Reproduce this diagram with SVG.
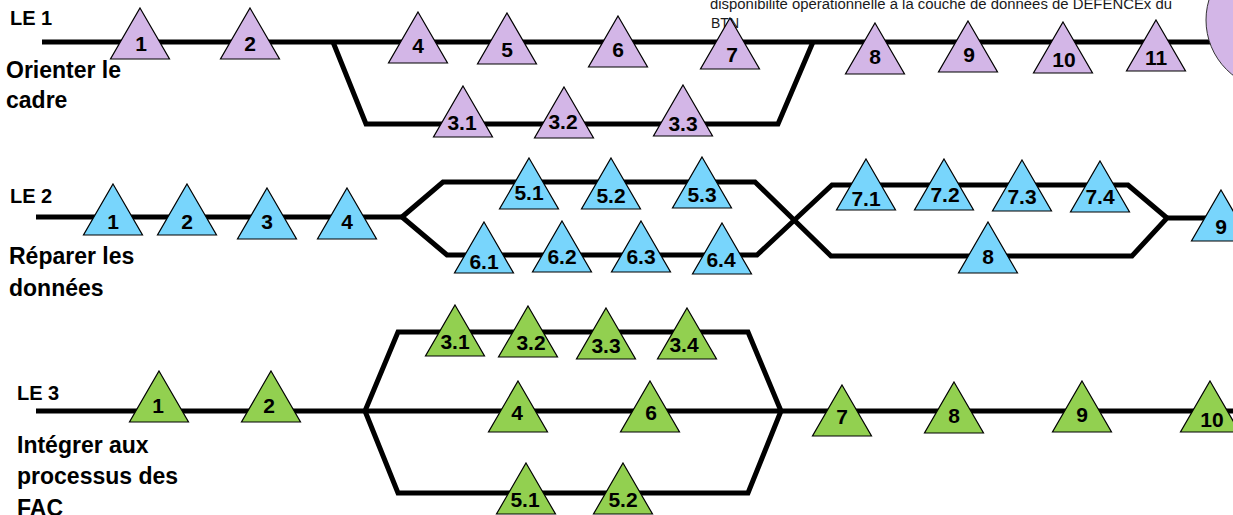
<svg xmlns="http://www.w3.org/2000/svg" xmlns:xlink="http://www.w3.org/1999/xlink" width="1233" height="515" viewBox="0 0 1233 515">
<style>
.ln{fill:none;stroke:#000;stroke-width:5;stroke-linejoin:miter}
.p{fill:#D3B6E7}
.b{fill:#78D5FC}
.g{fill:#92D050}
.tri{stroke:#000;stroke-width:1.2}
.lbl{font-family:"Liberation Sans",Arial,sans-serif;font-weight:bold;font-size:21px;text-anchor:middle;fill:#000}
.le{font-family:"Liberation Sans",Arial,sans-serif;font-weight:bold;font-size:20px;fill:#000}
.ds{font-family:"Liberation Sans",Arial,sans-serif;font-weight:bold;font-size:23px;fill:#000}
.note{font-family:"Liberation Sans",Arial,sans-serif;font-size:14px;fill:#1a1a1a}
</style>
<defs>
<path id="tri" class="tri" d="M0,0 L29.5,51 L-29.5,51 Z"/>
</defs>
<rect width="1233" height="515" fill="#fff"/>
<g id="note">
<text class="note" x="710" y="9" textLength="462" lengthAdjust="spacingAndGlyphs">disponibilité opérationnelle à la couche de données de DEFENCEx du</text>
<text class="note" x="711" y="28">BTN</text>
</g>
<g id="connectors">
<path class="ln" d="M42,42 H1215"/>
<path class="ln" d="M333,42 L366,124 H778 L813,42"/>
<path class="ln" d="M36,217 H402"/>
<path class="ln" d="M402,217 L443,182 H755 L831,256 H1132 L1167,218 H1233"/>
<path class="ln" d="M402,217 L447,255 H757 L832,185 H1128 L1167,218"/>
<path class="ln" d="M36,411 H1233"/>
<path class="ln" d="M365,411 L398,332 H748 L781,411"/>
<path class="ln" d="M365,411 L398,493 H748 L781,411"/>
</g>
<g id="goal1"><ellipse cx="1276" cy="20" rx="70" ry="70" fill="#D3B6E7" stroke="#333" stroke-width="1"/></g>
<g id="lane1-label"><text class="le" x="10" y="25">LE 1</text><text class="ds" x="6" y="78">Orienter le</text><text class="ds" x="6" y="108">cadre</text></g>
<g id="lane2-label"><text class="le" x="10" y="203">LE 2</text><text class="ds" x="9" y="264">Réparer les</text><text class="ds" x="9" y="296">données</text></g>
<g id="lane3-label"><text class="le" x="17" y="400">LE 3</text><text class="ds" x="17" y="453">Intégrer aux</text><text class="ds" x="17" y="484">processus des</text><text class="ds" x="17" y="516">FAC</text></g>
<g id="le1-1"><use href="#tri" x="140" y="8" class="p"/><text class="lbl" x="141" y="51">1</text></g>
<g id="le1-2"><use href="#tri" x="250" y="8" class="p"/><text class="lbl" x="250" y="51">2</text></g>
<g id="le1-4"><use href="#tri" x="418" y="12" class="p"/><text class="lbl" x="418" y="53">4</text></g>
<g id="le1-5"><use href="#tri" x="507" y="13" class="p"/><text class="lbl" x="507" y="57">5</text></g>
<g id="le1-6"><use href="#tri" x="618" y="16" class="p"/><text class="lbl" x="618" y="57">6</text></g>
<g id="le1-7"><use href="#tri" x="730" y="18" class="p"/><text class="lbl" x="732" y="62">7</text></g>
<g id="le1-8"><use href="#tri" x="875" y="23" class="p"/><text class="lbl" x="875" y="64">8</text></g>
<g id="le1-9"><use href="#tri" x="968" y="21" class="p"/><text class="lbl" x="969" y="62">9</text></g>
<g id="le1-10"><use href="#tri" x="1063" y="22" class="p"/><text class="lbl" x="1064" y="67">10</text></g>
<g id="le1-11"><use href="#tri" x="1156" y="20" class="p"/><text class="lbl" x="1156" y="65">11</text></g>
<g id="le1-3-1"><use href="#tri" x="463" y="86" class="p"/><text class="lbl" x="462" y="130">3.1</text></g>
<g id="le1-3-2"><use href="#tri" x="564" y="87" class="p"/><text class="lbl" x="563" y="129">3.2</text></g>
<g id="le1-3-3"><use href="#tri" x="683" y="85" class="p"/><text class="lbl" x="683" y="131">3.3</text></g>
<g id="le2-1"><use href="#tri" x="113" y="184" class="b"/><text class="lbl" x="113" y="229">1</text></g>
<g id="le2-2"><use href="#tri" x="187" y="184" class="b"/><text class="lbl" x="187" y="229">2</text></g>
<g id="le2-3"><use href="#tri" x="267" y="188" class="b"/><text class="lbl" x="267" y="229">3</text></g>
<g id="le2-4"><use href="#tri" x="347" y="188" class="b"/><text class="lbl" x="347" y="229">4</text></g>
<g id="le2-5-1"><use href="#tri" x="529" y="158" class="b"/><text class="lbl" x="529" y="200">5.1</text></g>
<g id="le2-5-2"><use href="#tri" x="611" y="158" class="b"/><text class="lbl" x="611" y="203">5.2</text></g>
<g id="le2-5-3"><use href="#tri" x="702" y="157" class="b"/><text class="lbl" x="702" y="202">5.3</text></g>
<g id="le2-6-1"><use href="#tri" x="484" y="222" class="b"/><text class="lbl" x="484" y="269">6.1</text></g>
<g id="le2-6-2"><use href="#tri" x="562" y="221" class="b"/><text class="lbl" x="562" y="264">6.2</text></g>
<g id="le2-6-3"><use href="#tri" x="641" y="221" class="b"/><text class="lbl" x="641" y="264">6.3</text></g>
<g id="le2-6-4"><use href="#tri" x="722" y="223" class="b"/><text class="lbl" x="721" y="267">6.4</text></g>
<g id="le2-7-1"><use href="#tri" x="866" y="159" class="b"/><text class="lbl" x="866" y="206">7.1</text></g>
<g id="le2-7-2"><use href="#tri" x="944" y="159" class="b"/><text class="lbl" x="945" y="202">7.2</text></g>
<g id="le2-7-3"><use href="#tri" x="1022" y="160" class="b"/><text class="lbl" x="1022" y="204">7.3</text></g>
<g id="le2-7-4"><use href="#tri" x="1100" y="161" class="b"/><text class="lbl" x="1100" y="204">7.4</text></g>
<g id="le2-8"><use href="#tri" x="988" y="222" class="b"/><text class="lbl" x="988" y="264">8</text></g>
<g id="le2-9"><use href="#tri" x="1221" y="190" class="b"/><text class="lbl" x="1221" y="234">9</text></g>
<g id="le3-1"><use href="#tri" x="159" y="371" class="g"/><text class="lbl" x="158" y="413">1</text></g>
<g id="le3-2"><use href="#tri" x="271" y="371" class="g"/><text class="lbl" x="269" y="413">2</text></g>
<g id="le3-3-1"><use href="#tri" x="455" y="305" class="g"/><text class="lbl" x="455" y="349">3.1</text></g>
<g id="le3-3-2"><use href="#tri" x="528" y="306" class="g"/><text class="lbl" x="531" y="350">3.2</text></g>
<g id="le3-3-3"><use href="#tri" x="606" y="308" class="g"/><text class="lbl" x="606" y="353">3.3</text></g>
<g id="le3-3-4"><use href="#tri" x="687" y="308" class="g"/><text class="lbl" x="684" y="352">3.4</text></g>
<g id="le3-4"><use href="#tri" x="518" y="381" class="g"/><text class="lbl" x="517" y="420">4</text></g>
<g id="le3-6"><use href="#tri" x="650" y="381" class="g"/><text class="lbl" x="651" y="420">6</text></g>
<g id="le3-5-1"><use href="#tri" x="526" y="463" class="g"/><text class="lbl" x="525" y="507">5.1</text></g>
<g id="le3-5-2"><use href="#tri" x="623" y="463" class="g"/><text class="lbl" x="623" y="507">5.2</text></g>
<g id="le3-7"><use href="#tri" x="842" y="385" class="g"/><text class="lbl" x="842" y="424">7</text></g>
<g id="le3-8"><use href="#tri" x="954" y="382" class="g"/><text class="lbl" x="954" y="423">8</text></g>
<g id="le3-9"><use href="#tri" x="1082" y="381" class="g"/><text class="lbl" x="1082" y="422">9</text></g>
<g id="le3-10"><use href="#tri" x="1210" y="381" class="g"/><text class="lbl" x="1212" y="427">10</text></g>
</svg>
